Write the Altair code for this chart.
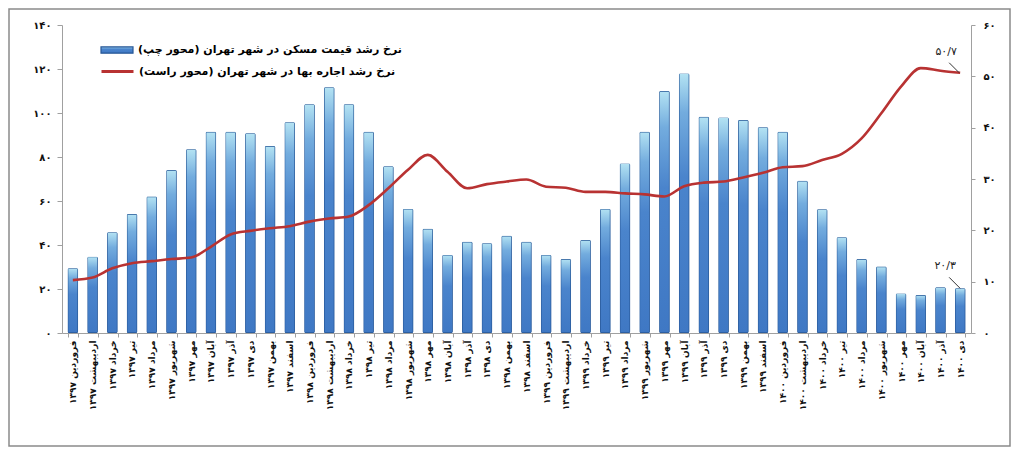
import altair as alt
import pandas as pd

months = ["فروردین", "اردیبهشت", "خرداد", "تیر", "مرداد", "شهریور",
          "مهر", "آبان", "آذر", "دی", "بهمن", "اسفند"]
years = ["۱۳۹۷", "۱۳۹۸", "۱۳۹۹", "۱۴۰۰"]
labels = [f"{m} {y}" for y in years for m in months][:46]

price_growth = [29.4, 34.7, 45.8, 54.1, 62.0, 74.1, 83.5, 91.5, 91.5, 90.8, 85.0, 95.8,
                104.0, 111.7, 104.0, 91.5, 75.8, 56.4, 47.4, 35.5, 41.5, 40.8, 44.2, 41.5,
                35.5, 33.6, 42.3, 56.4, 77.1, 91.5, 110.0, 118.0, 98.3, 98.0, 96.8, 93.5,
                91.5, 69.2, 56.2, 43.5, 33.6, 30.2, 18.0, 17.3, 20.8, 20.3]
rent_growth = [10.3, 10.8, 12.6, 13.6, 14.0, 14.4, 14.7, 16.8, 19.2, 19.9, 20.4, 20.8,
               21.7, 22.3, 22.7, 24.9, 28.2, 31.8, 34.7, 31.4, 28.2, 29.0, 29.5, 29.9,
               28.5, 28.3, 27.5, 27.5, 27.2, 27.0, 26.6, 28.6, 29.3, 29.5, 30.3, 31.2,
               32.3, 32.5, 33.7, 34.9, 37.9, 42.8, 48.0, 51.6, 51.1, 50.7]

name_price = "نرخ رشد قیمت مسکن در شهر تهران (محور چپ)"
name_rent = "نرخ رشد اجاره بها در شهر تهران (محور راست)"

left_ticks = [0, 20, 40, 60, 80, 100, 120, 140]
right_ticks = [0, 10, 20, 30, 40, 50, 60]

ann_price_text = "۲۰/۳"
ann_rent_text = "۵۰/۷"

FA = str.maketrans("0123456789", "۰۱۲۳۴۵۶۷۸۹")


def fa_expr(values):
    expr = "''"
    for v in reversed(values):
        expr = f"datum.value == {v} ? '{str(v).translate(FA)}' : ({expr})"
    return expr


df = pd.DataFrame({"month": labels, "price": price_growth, "rent": rent_growth,
                   "s_price": name_price, "s_rent": name_rent})
ann_p = pd.DataFrame({"month": [labels[-1]], "v": [price_growth[-1]], "t": [ann_price_text]})
ann_r = pd.DataFrame({"month": [labels[-1]], "v": [rent_growth[-1]], "t": [ann_rent_text]})

FONT = "DejaVu Sans"

xaxis = alt.Axis(labelAngle=-90, labelFontSize=9, labelFontWeight="bold",
                 labelPadding=3, tickBand="extent", tickSize=4, labelLimit=200)
xscale = alt.Scale(paddingInner=0.47, paddingOuter=0.285)
xenc = alt.X("month:N", sort=labels, title=None, scale=xscale, axis=xaxis)

left_scale = alt.Scale(domain=[0, 140], nice=False)
right_scale = alt.Scale(domain=[0, 60], nice=False)

bar_fill = alt.Gradient(
    gradient="linear", x1=0, x2=0, y1=0, y2=1,
    stops=[alt.GradientStop(color="#b4e3f3", offset=0),
           alt.GradientStop(color="#73acde", offset=0.15),
           alt.GradientStop(color="#4a84cc", offset=0.4),
           alt.GradientStop(color="#3f78c4", offset=1)])

bars = alt.Chart(df).mark_bar(fill=bar_fill, strokeWidth=1.4, cornerRadius=1.5).encode(
    x=xenc,
    y=alt.Y("price:Q", scale=left_scale, title=None,
            axis=alt.Axis(orient="left", values=left_ticks, labelExpr=fa_expr(left_ticks),
                          tickSize=5, labelPadding=6)),
    stroke=alt.Stroke("s_price:N", scale=alt.Scale(domain=[name_price], range=["#275796"]),
                      legend=alt.Legend(title=None, orient="none", legendX=38, legendY=8,
                                        symbolType="M-1,-0.2H1V0.2H-1Z", symbolSize=1024,
                                        symbolFillColor="#4a80c8", symbolStrokeWidth=1.2,
                                        labelFontSize=11, labelFontWeight="bold",
                                        labelFont=FONT, labelLimit=500, labelOffset=4)),
)

line = alt.Chart(df).mark_line(strokeWidth=2.6, interpolate="monotone").encode(
    x=xenc,
    y=alt.Y("rent:Q", scale=right_scale, title=None,
            axis=alt.Axis(orient="right", values=right_ticks, labelExpr=fa_expr(right_ticks),
                          tickSize=4, labelPadding=8)),
    color=alt.Color("s_rent:N", scale=alt.Scale(domain=[name_rent], range=["#b83232"]),
                    legend=alt.Legend(title=None, orient="none", legendX=38, legendY=29,
                                      symbolType="stroke", symbolSize=1024,
                                      symbolStrokeWidth=3,
                                      labelFontSize=11, labelFontWeight="bold",
                                      labelFont=FONT, labelLimit=500, labelOffset=4)),
)

txt_r = alt.Chart(ann_r).mark_text(dx=-14, dy=-21, fontSize=11, font=FONT, color="#222").encode(
    x=xenc, y=alt.Y("v:Q", scale=right_scale, axis=None), text="t:N")
lead_r = alt.Chart(ann_r).mark_point(shape="M-2.2,-2L-0.2,0", size=100, filled=False,
                                     stroke="#333", strokeWidth=1, opacity=1).encode(
    x=xenc, y=alt.Y("v:Q", scale=right_scale, axis=None))
txt_p = alt.Chart(ann_p).mark_text(dx=-15, dy=-22, fontSize=11, font=FONT, color="#222").encode(
    x=xenc, y=alt.Y("v:Q", scale=left_scale, axis=None), text="t:N")
lead_p = alt.Chart(ann_p).mark_point(shape="M-2.2,-2.2L0,0", size=100, filled=False,
                                     stroke="#333", strokeWidth=1, opacity=1).encode(
    x=xenc, y=alt.Y("v:Q", scale=left_scale, axis=None))

frame = alt.Chart(pd.DataFrame({"a": [0]})).mark_rect(
    fill="transparent", stroke="#8a8a8a", strokeWidth=1.5).encode(
    x=alt.value(-53), x2=alt.value(948), y=alt.value(-16), y2=alt.value(421))

chart = alt.layer(bars, line, txt_r, lead_r, txt_p, lead_p, frame).resolve_scale(
    y="independent", color="independent", stroke="independent"
).properties(
    width=909, height=308,
    autosize=alt.AutoSizeParams(type="none"),
    padding={"left": 54, "top": 17, "right": 40, "bottom": 114},
).configure_axis(
    grid=False, domainColor="#a0a0a0", tickColor="#a0a0a0", labelColor="#111",
    labelFont=FONT, labelFontWeight="bold", labelFontSize=10,
).configure_view(strokeWidth=0)

chart.save("out.html", embed_options={"renderer": "svg", "actions": False})
